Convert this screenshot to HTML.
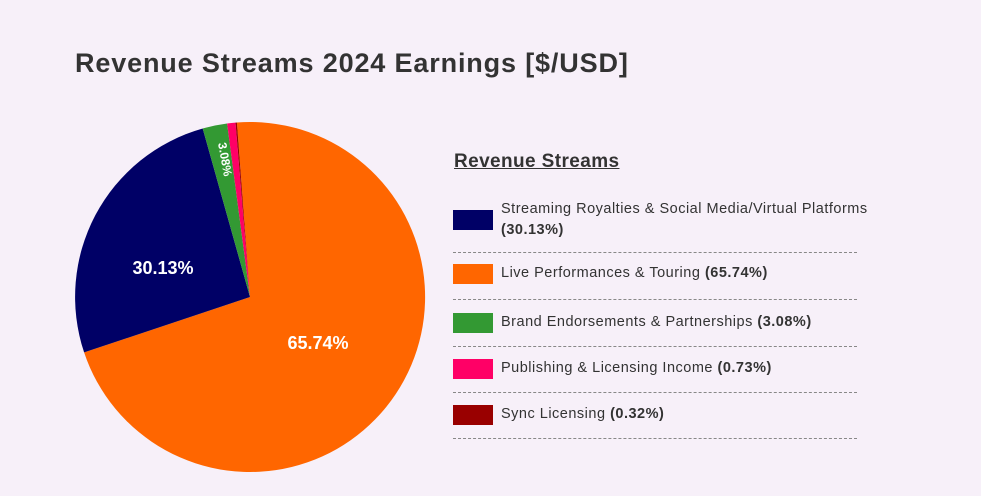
<!DOCTYPE html>
<html><head><meta charset="utf-8"><style>
body{margin:0;width:981px;height:496px;background:#f7f0f9;font-family:"Liberation Sans",sans-serif;position:relative;overflow:hidden;color:#333}
.t{position:absolute;left:75px;top:48px;font-size:27px;font-weight:bold;color:#333;letter-spacing:0.85px}
.lt{position:absolute;left:454px;top:151px;font-size:19px;font-weight:bold;text-decoration:underline;color:#333;letter-spacing:0.4px}
.sw{position:absolute;left:453px;width:40px;height:20px}
.tx{position:absolute;left:501px;font-size:14.5px;color:#333;line-height:21px;letter-spacing:0.5px}
.sep{position:absolute;left:453px;width:404px;border-top:1px dashed #888}
</style></head><body>
<div class="t">Revenue Streams 2024 Earnings [$/USD]</div>
<svg width="981" height="496" style="position:absolute;left:0;top:0">
<path d="M250 297 L236.9 122.5 A175 175 0 1 1 84.1 352.4 Z" fill="#ff6600"/>
<path d="M250 297 L84.1 352.4 A175 175 0 0 1 202.7 128.5 Z" fill="#000066"/>
<path d="M250 297 L202.7 128.5 A175 175 0 0 1 227.1 123.5 Z" fill="#339933"/>
<path d="M250 297 L227.1 123.5 A175 175 0 0 1 235.5 122.6 Z" fill="#ff0066"/>
<path d="M250 297 L235.5 122.6 A175 175 0 0 1 236.9 122.5 Z" fill="#990000"/>
<text x="163" y="274" fill="#fff" font-size="18" font-weight="bold" text-anchor="middle" font-family="Liberation Sans">30.13%</text>
<text x="318" y="349" fill="#fff" font-size="18" font-weight="bold" text-anchor="middle" font-family="Liberation Sans">65.74%</text>
<text transform="translate(221,160) rotate(80)" fill="#fff" font-size="12" font-weight="bold" text-anchor="middle" font-family="Liberation Sans">3.08%</text>
</svg>
<div class="lt">Revenue Streams</div>
<div class="sw" style="top:210px;background:#000066"></div>
<div class="tx" style="top:199px">Streaming Royalties &amp; Social Media/Virtual Platforms<br><b>(30.13%)</b></div>
<div class="sep" style="top:252px"></div>
<div class="sw" style="top:264px;background:#ff6600"></div>
<div class="tx" style="top:263px">Live Performances &amp; Touring <b>(65.74%)</b></div>
<div class="sep" style="top:299px"></div>
<div class="sw" style="top:313px;background:#339933"></div>
<div class="tx" style="top:312px">Brand Endorsements &amp; Partnerships <b>(3.08%)</b></div>
<div class="sep" style="top:346px"></div>
<div class="sw" style="top:359px;background:#ff0066"></div>
<div class="tx" style="top:358px">Publishing &amp; Licensing Income <b>(0.73%)</b></div>
<div class="sep" style="top:392px"></div>
<div class="sw" style="top:405px;background:#990000"></div>
<div class="tx" style="top:404px">Sync Licensing <b>(0.32%)</b></div>
<div class="sep" style="top:438px"></div>
</body></html>
